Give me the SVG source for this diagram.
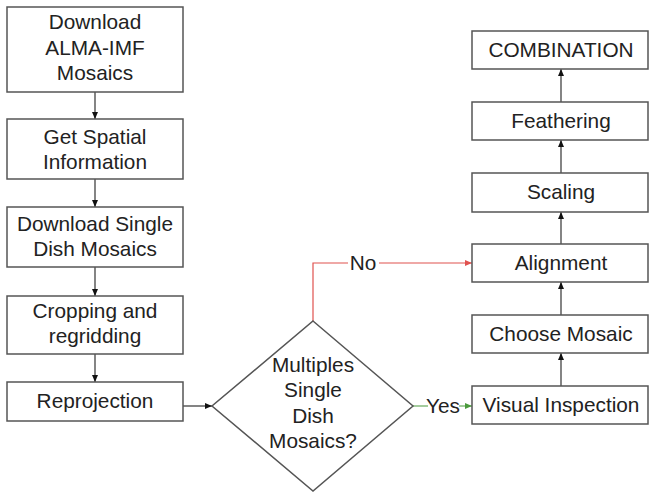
<svg xmlns="http://www.w3.org/2000/svg" width="650" height="493" viewBox="0 0 650 493">
<style>
.box{fill:#fff;stroke:#555;stroke-width:1.5}
.t{font-family:"Liberation Sans",Arial,sans-serif;font-size:20.8px;fill:#222;text-anchor:middle}
.c{fill:none;stroke:#333;stroke-width:1.2}
.no{fill:none;stroke:#e0524f;stroke-width:1.2}
.yes{fill:none;stroke:#4a9a3c;stroke-width:1.2}
</style>
<defs>
<marker id="ak" markerWidth="8" markerHeight="6" refX="7" refY="3" orient="auto" markerUnits="userSpaceOnUse"><path d="M0,0 L7,3 L0,6 Z" fill="#111"/></marker>
<marker id="ar" markerWidth="8" markerHeight="6" refX="7" refY="3" orient="auto" markerUnits="userSpaceOnUse"><path d="M0,0 L7,3 L0,6 Z" fill="#e0524f"/></marker>
<marker id="ag" markerWidth="8" markerHeight="6" refX="7" refY="3" orient="auto" markerUnits="userSpaceOnUse"><path d="M0,0 L7,3 L0,6 Z" fill="#4a9a3c"/></marker>
</defs>
<rect width="650" height="493" fill="#fff"/>
<g id="connectors">
<line class="c" x1="95" y1="92" x2="95" y2="119" marker-end="url(#ak)"/>
<line class="c" x1="95" y1="179" x2="95" y2="207" marker-end="url(#ak)"/>
<line class="c" x1="95" y1="267" x2="95" y2="296" marker-end="url(#ak)"/>
<line class="c" x1="95" y1="354" x2="95" y2="382" marker-end="url(#ak)"/>
<line class="c" x1="183" y1="406" x2="212" y2="406" marker-end="url(#ak)"/>
<path class="no" d="M313,321 V263 H348 M379,263 H472" marker-end="url(#ar)"/>
<path class="yes" d="M413,406 H428 M459,406 H472" marker-end="url(#ag)"/>
<line class="c" x1="561" y1="386" x2="561" y2="353" marker-end="url(#ak)"/>
<line class="c" x1="561" y1="315" x2="561" y2="282" marker-end="url(#ak)"/>
<line class="c" x1="561" y1="244" x2="561" y2="212" marker-end="url(#ak)"/>
<line class="c" x1="561" y1="173" x2="561" y2="140" marker-end="url(#ak)"/>
<line class="c" x1="561" y1="102" x2="561" y2="69" marker-end="url(#ak)"/>
<text class="t" x="363" y="270">No</text>
<text class="t" x="443" y="413">Yes</text>
</g>
<g id="n1"><rect class="box" x="7" y="7" width="176" height="85"/><text class="t" x="95" y="29">Download</text><text class="t" x="95" y="55">ALMA-IMF</text><text class="t" x="95" y="80">Mosaics</text></g>
<g id="n2"><rect class="box" x="7" y="119" width="176" height="60"/><text class="t" x="95" y="144">Get Spatial</text><text class="t" x="95" y="169">Information</text></g>
<g id="n3"><rect class="box" x="7" y="207" width="176" height="60"/><text class="t" x="95" y="231">Download Single</text><text class="t" x="95" y="256">Dish Mosaics</text></g>
<g id="n4"><rect class="box" x="7" y="296" width="176" height="58"/><text class="t" x="95" y="318">Cropping and</text><text class="t" x="95" y="343">regridding</text></g>
<g id="n5"><rect class="box" x="7" y="382" width="176" height="39"/><text class="t" x="95" y="408">Reprojection</text></g>
<g id="decision"><polygon class="box" points="313,321 413,406 313,491 212,406"/><text class="t" x="313" y="372">Multiples</text><text class="t" x="313" y="397">Single</text><text class="t" x="313" y="423">Dish</text><text class="t" x="313" y="448">Mosaics?</text></g>
<g id="n6"><rect class="box" x="472" y="386" width="176" height="38"/><text class="t" x="561" y="412">Visual Inspection</text></g>
<g id="n7"><rect class="box" x="472" y="315" width="176" height="38"/><text class="t" x="561" y="341">Choose Mosaic</text></g>
<g id="n8"><rect class="box" x="472" y="244" width="176" height="38"/><text class="t" x="561" y="270">Alignment</text></g>
<g id="n9"><rect class="box" x="472" y="173" width="176" height="39"/><text class="t" x="561" y="199">Scaling</text></g>
<g id="n10"><rect class="box" x="472" y="102" width="176" height="38"/><text class="t" x="561" y="128">Feathering</text></g>
<g id="n11"><rect class="box" x="472" y="31" width="176" height="38"/><text class="t" x="561" y="57">COMBINATION</text></g>
</svg>
